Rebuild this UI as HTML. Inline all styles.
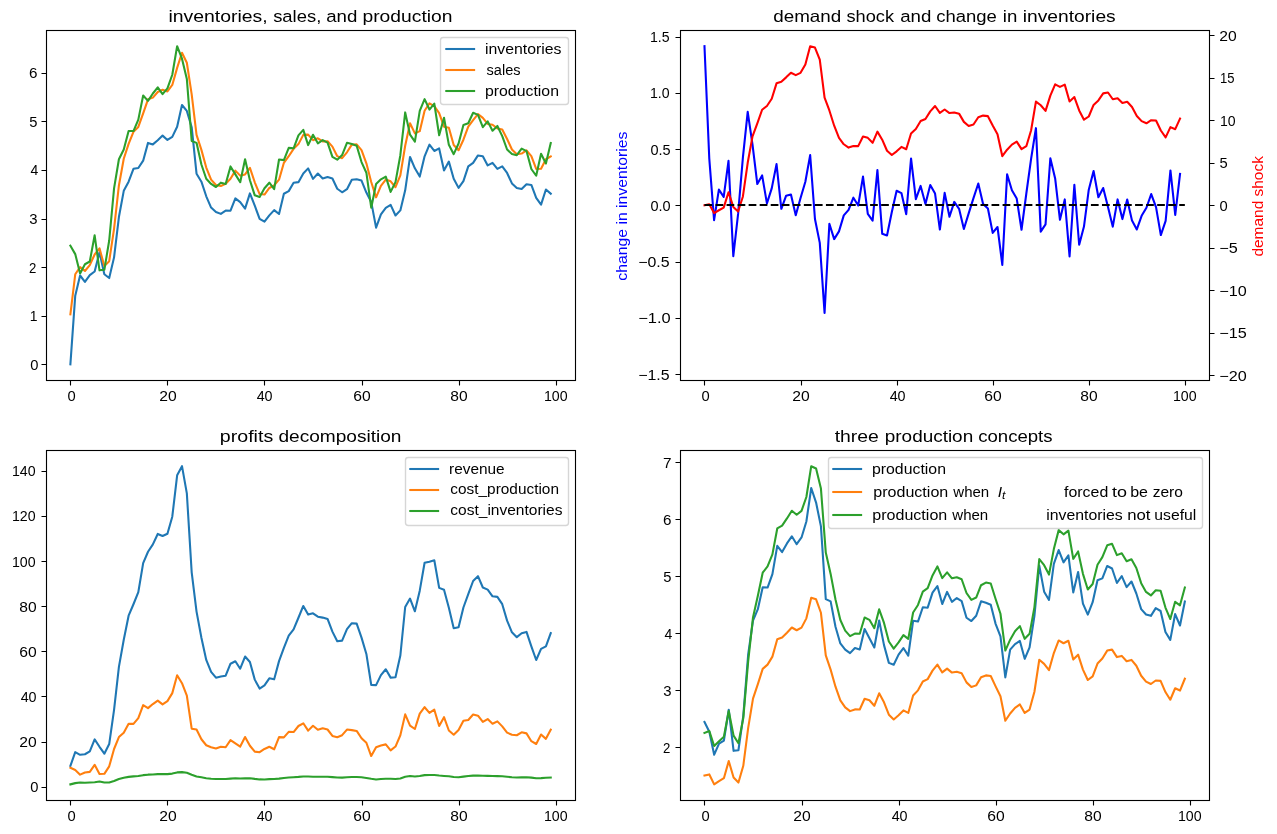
<!DOCTYPE html>
<html><head><meta charset="utf-8"><title>production smoothing</title>
<style>html,body{margin:0;padding:0;background:#fff;}body{width:1277px;height:834px;overflow:hidden;}svg{display:block;will-change:transform;}</style>
</head><body>
<svg width="1277" height="834" viewBox="0 0 1277 834">
<rect x="0" y="0" width="1277" height="834" fill="#ffffff"/>
<path d="M70.39 364.37 L75.24 295.64 L80.09 275.5 L84.94 281.94 L89.79 275.16 L94.65 271.5 L99.5 252.32 L104.35 274.3 L109.2 278.03 L114.06 257.37 L118.91 217.01 L123.76 190.84 L128.61 181.66 L133.46 168.76 L138.32 167.96 L143.17 160.67 L148.02 142.89 L152.87 144.41 L157.73 140.26 L162.58 135.62 L167.43 139.96 L172.28 136.85 L177.14 126.69 L181.99 105.03 L186.84 110.94 L191.69 127.18 L196.54 173.72 L201.4 181.67 L206.25 196.29 L211.1 207.55 L215.95 211.94 L220.81 213.91 L225.66 210.64 L230.51 210.74 L235.36 198.35 L240.21 202.05 L245.07 208.65 L249.92 193.41 L254.77 205.74 L259.62 218.78 L264.48 221.68 L269.33 215.41 L274.18 210.14 L279.03 213.99 L283.88 193.78 L288.74 191.11 L293.59 182.74 L298.44 182.14 L303.29 173.43 L308.15 168.39 L313 178.86 L317.85 173.5 L322.7 178.47 L327.55 177.03 L332.41 178.55 L337.26 188.78 L342.11 192.26 L346.96 189.2 L351.82 179.77 L356.67 179.17 L361.52 180.59 L366.37 192.53 L371.22 201.91 L376.08 227.68 L380.93 214.33 L385.78 207.82 L390.63 204.91 L395.49 215.48 L400.34 210.39 L405.19 190.28 L410.04 156.97 L414.89 168.34 L419.75 176.57 L424.6 156.3 L429.45 144.7 L434.3 150.97 L439.16 148.45 L444.01 170.51 L448.86 161.62 L453.71 178.69 L458.57 187.87 L463.42 181.15 L468.27 166.36 L473.12 162.89 L477.97 155.43 L482.83 156.17 L487.68 165.42 L492.53 162.88 L497.38 168.86 L502.24 166.34 L507.09 172.97 L511.94 183.42 L516.79 187.97 L521.64 189.04 L526.5 184.19 L531.35 184.97 L536.2 197.83 L541.05 204.58 L545.91 189.55 L550.76 193.72" fill="none" stroke="#1f77b4" stroke-width="2.08" stroke-linejoin="round" stroke-linecap="square"/>
<path d="M70.39 314.37 L75.24 274.26 L80.09 267.16 L84.94 271 L89.79 265.18 L94.65 254.48 L99.5 248.36 L104.35 266.11 L109.2 261.18 L114.06 228.78 L118.91 185.46 L123.76 158.72 L128.61 143.82 L133.46 131.88 L138.32 126.94 L143.17 113.28 L148.02 99.33 L152.87 97.63 L157.73 92.03 L162.58 89.79 L167.43 91.5 L172.28 84.91 L177.14 67.85 L181.99 52.72 L186.84 62.72 L191.69 94.39 L196.54 134.9 L201.4 149.85 L206.25 167.52 L211.1 179.58 L215.95 185.02 L220.81 185.95 L225.66 183.84 L230.51 178.82 L235.36 170.63 L240.21 175.64 L245.07 174.44 L249.92 167.87 L254.77 182.29 L259.62 194.07 L264.48 194.57 L269.33 187.97 L274.18 185.32 L279.03 179.68 L283.88 162.78 L288.74 156.23 L293.59 148.85 L298.44 144.11 L303.29 134.87 L308.15 134.66 L313 140.16 L317.85 138.32 L322.7 141.49 L327.55 141.18 L332.41 146.61 L337.26 156.16 L342.11 158.17 L346.96 152.29 L351.82 144.67 L356.67 144.32 L361.52 150.13 L366.37 163.34 L371.22 181.94 L376.08 197.37 L380.93 185.84 L385.78 179.55 L390.63 181.32 L395.49 187.22 L400.34 175.34 L405.19 145.72 L410.04 123.23 L414.89 133.4 L419.75 131.14 L424.6 110.71 L429.45 103.29 L434.3 106.18 L439.16 113.2 L444.01 126.67 L448.86 127.79 L453.71 144.97 L458.57 150.27 L463.42 139.72 L468.27 126.71 L473.12 120.17 L477.97 114.12 L482.83 117.93 L487.68 123.92 L492.53 124.77 L497.38 128.45 L502.24 129.53 L507.09 139.06 L511.94 149.48 L516.79 154.17 L521.64 153.53 L526.5 150.33 L531.35 156.12 L536.2 168.99 L541.05 168.72 L545.91 159.27 L550.76 156.47" fill="none" stroke="#ff7f0e" stroke-width="2.08" stroke-linejoin="round" stroke-linecap="square"/>
<path d="M70.39 245.65 L75.24 254.11 L80.09 273.6 L84.94 264.22 L89.79 261.53 L94.65 235.3 L99.5 270.34 L104.35 269.84 L109.2 240.51 L114.06 188.41 L118.91 159.29 L123.76 149.54 L128.61 130.93 L133.46 131.08 L138.32 119.66 L143.17 95.5 L148.02 100.85 L152.87 93.49 L157.73 87.39 L162.58 94.12 L167.43 88.39 L172.28 74.75 L177.14 46.19 L181.99 58.64 L186.84 78.95 L191.69 140.94 L196.54 142.85 L201.4 164.47 L206.25 178.78 L211.1 183.96 L215.95 187 L220.81 182.67 L225.66 183.95 L230.51 166.42 L235.36 174.34 L240.21 182.23 L245.07 159.2 L249.92 180.21 L254.77 195.33 L259.62 196.97 L264.48 188.3 L269.33 182.7 L274.18 189.17 L279.03 159.47 L283.88 160.11 L288.74 147.86 L293.59 148.26 L298.44 135.39 L303.29 129.83 L308.15 145.13 L313 134.8 L317.85 143.29 L322.7 140.04 L327.55 142.7 L332.41 156.84 L337.26 159.64 L342.11 155.11 L346.96 142.86 L351.82 144.08 L356.67 145.75 L361.52 162.07 L366.37 172.73 L371.22 207.71 L376.08 184.03 L380.93 179.33 L385.78 176.65 L390.63 191.89 L395.49 182.13 L400.34 155.23 L405.19 112.41 L410.04 134.6 L414.89 141.63 L419.75 110.87 L424.6 99.12 L429.45 109.56 L434.3 103.65 L439.16 135.26 L444.01 117.78 L448.86 144.85 L453.71 154.16 L458.57 143.54 L463.42 124.93 L468.27 123.25 L473.12 112.71 L477.97 114.86 L482.83 127.18 L487.68 121.38 L492.53 130.75 L497.38 125.94 L502.24 136.16 L507.09 149.51 L511.94 154.03 L516.79 155.24 L521.64 148.68 L526.5 151.1 L531.35 168.99 L536.2 175.74 L541.05 153.69 L545.91 163.45 L550.76 142.95" fill="none" stroke="#2ca02c" stroke-width="2.08" stroke-linejoin="round" stroke-linecap="square"/>
<path d="M704.48 46.19 L709.28 158.64 L714.08 220.19 L718.89 189.58 L723.69 196.82 L728.5 160.86 L733.3 256.16 L738.1 213.92 L742.91 157.45 L747.71 111.84 L752.51 144.7 L757.32 184.03 L762.12 175.43 L766.93 203.42 L771.73 188.41 L776.53 164.11 L781.34 208.8 L786.14 195.68 L790.94 194.54 L795.75 215.31 L800.55 198.09 L805.35 181.76 L810.16 155.12 L814.96 218.97 L819.77 242.86 L824.57 313.02 L829.37 223.7 L834.18 239.12 L838.98 231.34 L843.78 215.42 L848.59 209.86 L853.39 197.69 L858.2 205.53 L863 176.58 L867.8 213.85 L872.61 220.55 L877.41 170 L882.21 233.82 L887.02 235.47 L891.82 211.99 L896.63 190.76 L901.43 193.07 L906.23 214.19 L911.04 158.49 L915.84 199.1 L920.64 185.91 L925.45 203.9 L930.25 185.1 L935.06 193.61 L939.86 229.52 L944.66 192.88 L949.47 216.79 L954.27 201.93 L959.07 208.81 L963.88 228.96 L968.68 213.33 L973.48 198.18 L978.29 183.45 L983.09 203.9 L987.9 208.57 L992.7 232.9 L997.5 227 L1002.31 264.92 L1007.11 174.38 L1011.91 190.21 L1016.72 198.56 L1021.52 229.75 L1026.33 193.49 L1031.13 158.73 L1035.93 128.17 L1040.74 231.6 L1045.54 224.34 L1050.34 158.36 L1055.15 178.43 L1059.95 219.79 L1064.76 199.43 L1069.56 256.34 L1074.36 184.72 L1079.17 244.77 L1083.97 226.55 L1088.77 189.7 L1093.58 171.04 L1098.38 197.26 L1103.19 188.01 L1107.99 206.99 L1112.79 226.69 L1117.6 199.41 L1122.4 219.11 L1127.2 199.45 L1132.01 220.62 L1136.81 229.47 L1141.62 215.82 L1146.42 207.76 L1151.22 194.05 L1156.03 207.07 L1160.83 235.06 L1165.63 220.91 L1170.44 170.47 L1175.24 214.95 L1180.04 173.97" fill="none" stroke="#0000ff" stroke-width="2.08" stroke-linejoin="round" stroke-linecap="square"/>
<path d="M704.48 205.28 L709.28 204.22 L714.08 213.11 L718.89 210.27 L723.69 207.63 L728.5 192.24 L733.3 206.93 L738.1 211.48 L742.91 196.47 L747.71 162.8 L752.51 136.43 L757.32 123.47 L762.12 109.75 L766.93 105.96 L771.73 98.79 L776.53 83.33 L781.34 81.66 L786.14 77.37 L790.94 72.77 L795.75 75.17 L800.55 72.85 L805.35 64.56 L810.16 46.19 L814.96 47.53 L819.77 59.56 L824.57 97.73 L829.37 110.45 L834.18 125.69 L838.98 137.95 L843.78 144.26 L848.59 147.59 L853.39 146.04 L858.2 146.15 L863 136.47 L867.8 137.85 L872.61 142.82 L877.41 131.61 L882.21 139.7 L887.02 150.76 L891.82 155.01 L896.63 151.31 L901.43 146.93 L906.23 149.19 L911.04 133.51 L915.84 128.98 L920.64 121.04 L925.45 118.95 L930.25 111.34 L935.06 105.98 L939.86 112.95 L944.66 109.52 L949.47 113.08 L954.27 112.42 L959.07 113.64 L963.88 121.85 L968.68 125.92 L973.48 124.54 L978.29 117.21 L983.09 115.6 L987.9 116.15 L992.7 125.43 L997.5 134.22 L1002.31 156.19 L1007.11 149.69 L1011.91 144.64 L1016.72 141.59 L1021.52 149.17 L1026.33 146.19 L1031.13 130.24 L1035.93 101.58 L1040.74 105.26 L1045.54 110.86 L1050.34 95.64 L1055.15 84.33 L1059.95 86.84 L1064.76 84.61 L1069.56 101.46 L1074.36 97.05 L1079.17 110.41 L1083.97 119.72 L1088.77 116.49 L1093.58 104.96 L1098.38 100.44 L1103.19 93.39 L1107.99 92.52 L1112.79 99.24 L1117.6 98.17 L1122.4 102.93 L1127.2 101.73 L1132.01 106.94 L1136.81 115.95 L1141.62 121.17 L1146.42 123.28 L1151.22 120.17 L1156.03 120.47 L1160.83 130.51 L1165.63 137.37 L1170.44 127.11 L1175.24 129.17 L1180.04 118.58" fill="none" stroke="#ff0000" stroke-width="2.08" stroke-linejoin="round" stroke-linecap="square"/>
<path d="M704.48 205 L1184.85 205" fill="none" stroke="#000000" stroke-width="2.08" stroke-dasharray="7.708 3.333" stroke-linecap="butt"/>
<path d="M70.39 765.92 L75.24 752.14 L80.09 754.8 L84.94 754.26 L89.79 751.36 L94.65 739.43 L99.5 746.78 L104.35 753.68 L109.2 744.03 L114.06 709.87 L118.91 666.94 L123.76 639.72 L128.61 615.67 L133.46 604.25 L138.32 592.19 L143.17 563.06 L148.02 551.75 L152.87 544.42 L157.73 533.95 L162.58 536.06 L167.43 533.71 L172.28 516.7 L177.14 475.28 L181.99 466.19 L186.84 493.42 L191.69 572.35 L196.54 611.59 L201.4 637.8 L206.25 659.93 L211.1 671.94 L215.95 677.66 L220.81 676.55 L225.66 675.72 L230.51 663.71 L235.36 661.26 L240.21 668.72 L245.07 656.56 L249.92 661.97 L254.77 679.63 L259.62 688.6 L264.48 685.37 L269.33 678.32 L274.18 679.35 L279.03 661.14 L283.88 647.91 L288.74 635.67 L293.59 629.37 L298.44 617.75 L303.29 605.97 L308.15 614.6 L313 613.33 L317.85 616.71 L322.7 617.61 L327.55 618.92 L332.41 631.65 L337.26 641.19 L342.11 640.64 L346.96 629.17 L351.82 623.18 L356.67 623.65 L361.52 637.63 L366.37 653.95 L371.22 684.89 L376.08 685.11 L380.93 675.14 L385.78 669.24 L390.63 677.63 L395.49 677.27 L400.34 655.6 L405.19 606.99 L410.04 598.53 L414.89 611.29 L419.75 590.67 L424.6 562.78 L429.45 561.66 L434.3 560.29 L439.16 587.89 L444.01 589.77 L448.86 607.72 L453.71 628.27 L458.57 627.25 L463.42 607.5 L468.27 594.2 L473.12 581.01 L477.97 576.18 L482.83 587.53 L487.68 589.59 L492.53 596.33 L497.38 596.88 L502.24 604.19 L507.09 620.64 L511.94 632.31 L516.79 637.17 L521.64 633.25 L526.5 631.93 L531.35 646.39 L536.2 659.99 L541.05 648.89 L545.91 646.4 L550.76 633" fill="none" stroke="#1f77b4" stroke-width="2.08" stroke-linejoin="round" stroke-linecap="square"/>
<path d="M70.39 767.77 L75.24 770.02 L80.09 774.67 L84.94 772.52 L89.79 771.87 L94.65 764.84 L99.5 773.94 L104.35 773.83 L109.2 766.34 L114.06 749 L118.91 737.04 L123.76 732.67 L128.61 723.83 L133.46 723.91 L138.32 718.16 L143.17 705.18 L148.02 708.15 L152.87 704.05 L157.73 700.58 L162.58 704.41 L167.43 701.15 L172.28 693.14 L177.14 675.22 L181.99 683.23 L186.84 695.65 L191.69 728.67 L196.54 729.57 L201.4 739.28 L206.25 745.22 L211.1 747.27 L215.95 748.45 L220.81 746.77 L225.66 747.27 L230.51 740.12 L235.36 743.42 L240.21 746.59 L245.07 737 L249.92 745.79 L254.77 751.6 L259.62 752.2 L264.48 748.95 L269.33 746.78 L274.18 749.29 L279.03 737.12 L283.88 737.4 L288.74 731.9 L293.59 732.08 L298.44 726.02 L303.29 723.29 L308.15 730.64 L313 725.73 L317.85 729.78 L322.7 728.24 L327.55 729.5 L332.41 735.96 L337.26 737.19 L342.11 735.19 L346.96 729.58 L351.82 730.15 L356.67 730.92 L361.52 738.25 L366.37 742.76 L371.22 756.02 L376.08 747.3 L380.93 745.44 L385.78 744.36 L390.63 750.32 L395.49 746.55 L400.34 735.24 L405.19 714.38 L410.04 725.63 L414.89 729 L419.75 713.57 L424.6 707.2 L429.45 712.87 L434.3 709.69 L439.16 725.95 L444.01 717.19 L448.86 730.51 L453.71 734.76 L458.57 729.9 L463.42 720.85 L468.27 719.99 L473.12 714.54 L477.97 715.67 L482.83 721.97 L487.68 719.05 L492.53 723.75 L497.38 721.35 L502.24 726.39 L507.09 732.66 L511.94 734.71 L516.79 735.25 L521.64 732.28 L526.5 733.38 L531.35 741.2 L536.2 743.99 L541.05 734.55 L545.91 738.85 L550.76 729.62" fill="none" stroke="#ff7f0e" stroke-width="2.08" stroke-linejoin="round" stroke-linecap="square"/>
<path d="M70.39 784.37 L75.24 783.13 L80.09 782.56 L84.94 782.81 L89.79 782.52 L94.65 782.17 L99.5 781.54 L104.35 782.51 L109.2 782.48 L114.06 781.01 L118.91 778.96 L123.76 777.71 L128.61 776.9 L133.46 776.37 L138.32 776.03 L143.17 775.15 L148.02 774.66 L152.87 774.45 L157.73 774.12 L162.58 774.12 L167.43 774.09 L172.28 773.61 L177.14 772.41 L181.99 772.1 L186.84 772.76 L191.69 774.71 L196.54 776.46 L201.4 777.3 L206.25 778.16 L211.1 778.73 L215.95 778.98 L220.81 779.02 L225.66 778.93 L230.51 778.65 L235.36 778.31 L240.21 778.55 L245.07 778.41 L249.92 778.19 L254.77 778.86 L259.62 779.41 L264.48 779.43 L269.33 779.12 L274.18 779 L279.03 778.65 L283.88 777.92 L288.74 777.55 L293.59 777.22 L298.44 776.91 L303.29 776.47 L308.15 776.57 L313 776.71 L317.85 776.71 L322.7 776.82 L327.55 776.83 L332.41 777.15 L337.26 777.58 L342.11 777.65 L346.96 777.32 L351.82 777.01 L356.67 776.99 L361.52 777.33 L366.37 777.96 L371.22 778.83 L376.08 779.53 L380.93 779.01 L385.78 778.72 L390.63 778.82 L395.49 779.08 L400.34 778.43 L405.19 776.77 L410.04 776.04 L414.89 776.49 L419.75 776.06 L424.6 775.11 L429.45 774.92 L434.3 774.93 L439.16 775.54 L444.01 775.92 L448.86 776.25 L453.71 777.05 L458.57 777.21 L463.42 776.61 L468.27 776.06 L473.12 775.65 L477.97 775.42 L482.83 775.69 L487.68 775.87 L492.53 776.01 L497.38 776.12 L502.24 776.26 L507.09 776.77 L511.94 777.25 L516.79 777.47 L521.64 777.41 L526.5 777.29 L531.35 777.63 L536.2 778.23 L541.05 778.11 L545.91 777.76 L550.76 777.5" fill="none" stroke="#2ca02c" stroke-width="2.08" stroke-linejoin="round" stroke-linecap="square"/>
<path d="M704.48 721.88 L709.33 731.81 L714.18 754.66 L719.03 743.66 L723.89 740.51 L728.74 709.74 L733.59 750.84 L738.44 750.26 L743.29 715.86 L748.15 654.76 L753 620.61 L757.85 609.18 L762.7 587.35 L767.56 587.53 L772.41 574.14 L777.26 545.81 L782.11 552.08 L786.96 543.45 L791.82 536.31 L796.67 544.19 L801.52 537.48 L806.37 521.48 L811.23 487.98 L816.08 502.58 L820.93 526.4 L825.78 599.09 L830.63 601.34 L835.49 626.69 L840.34 643.47 L845.19 649.55 L850.04 653.11 L854.9 648.04 L859.75 649.53 L864.6 628.98 L869.45 638.26 L874.31 647.52 L879.16 620.5 L884.01 645.14 L888.86 662.88 L893.71 664.8 L898.57 654.63 L903.42 648.06 L908.27 655.65 L913.12 620.82 L917.98 621.57 L922.83 607.21 L927.68 607.67 L932.53 592.59 L937.38 586.07 L942.24 604.01 L947.09 591.9 L951.94 601.86 L956.79 598.04 L961.65 601.16 L966.5 617.74 L971.35 621.02 L976.2 615.71 L981.05 601.35 L985.91 602.77 L990.76 604.73 L995.61 623.87 L1000.46 636.37 L1005.32 677.39 L1010.17 649.62 L1015.02 644.11 L1019.87 640.97 L1024.72 658.84 L1029.58 647.4 L1034.43 615.85 L1039.28 565.64 L1044.13 591.66 L1048.99 599.91 L1053.84 563.83 L1058.69 550.05 L1063.54 562.3 L1068.39 555.37 L1073.25 592.44 L1078.1 571.94 L1082.95 603.69 L1087.8 614.6 L1092.66 602.15 L1097.51 580.32 L1102.36 578.35 L1107.21 565.99 L1112.06 568.51 L1116.92 582.96 L1121.77 576.16 L1126.62 587.14 L1131.47 581.5 L1136.33 593.49 L1141.18 609.14 L1146.03 614.45 L1150.88 615.87 L1155.74 608.17 L1160.59 611.01 L1165.44 631.98 L1170.29 639.9 L1175.14 614.04 L1180 625.49 L1184.85 601.45" fill="none" stroke="#1f77b4" stroke-width="2.08" stroke-linejoin="round" stroke-linecap="square"/>
<path d="M704.48 775.61 L709.33 774.42 L714.18 784.37 L719.03 781.18 L723.89 778.23 L728.74 761.04 L733.59 777.46 L738.44 782.55 L743.29 765.76 L748.15 728.14 L753 698.67 L757.85 684.19 L762.7 668.85 L767.56 664.62 L772.41 656.61 L777.26 639.33 L782.11 637.47 L786.96 632.67 L791.82 627.53 L796.67 630.22 L801.52 627.62 L806.37 618.36 L811.23 597.83 L816.08 599.33 L820.93 612.77 L825.78 655.42 L830.63 669.64 L835.49 686.67 L840.34 700.37 L845.19 707.42 L850.04 711.14 L854.9 709.41 L859.75 709.54 L864.6 698.72 L869.45 700.26 L874.31 705.81 L879.16 693.29 L884.01 702.33 L888.86 714.69 L893.71 719.44 L898.57 715.31 L903.42 710.41 L908.27 712.93 L913.12 695.41 L917.98 690.35 L922.83 681.48 L927.68 679.14 L932.53 670.64 L937.38 664.65 L942.24 672.43 L947.09 668.6 L951.94 672.58 L956.79 671.84 L961.65 673.2 L966.5 682.38 L971.35 686.93 L976.2 685.38 L981.05 677.19 L985.91 675.4 L990.76 676.01 L995.61 686.38 L1000.46 696.21 L1005.32 720.75 L1010.17 713.49 L1015.02 707.85 L1019.87 704.44 L1024.72 712.91 L1029.58 709.58 L1034.43 691.76 L1039.28 659.73 L1044.13 663.84 L1048.99 670.1 L1053.84 653.08 L1058.69 640.45 L1063.54 643.26 L1068.39 640.76 L1073.25 659.59 L1078.1 654.66 L1082.95 669.6 L1087.8 680 L1092.66 676.39 L1097.51 663.51 L1102.36 658.46 L1107.21 650.58 L1112.06 649.61 L1116.92 657.11 L1121.77 655.91 L1126.62 661.23 L1131.47 659.89 L1136.33 665.72 L1141.18 675.79 L1146.03 681.62 L1150.88 683.98 L1155.74 680.5 L1160.59 680.84 L1165.44 692.05 L1170.29 699.72 L1175.14 688.26 L1180 690.56 L1184.85 678.72" fill="none" stroke="#ff7f0e" stroke-width="2.08" stroke-linejoin="round" stroke-linecap="square"/>
<path d="M704.48 732.86 L709.33 731.08 L714.18 746 L719.03 741.22 L723.89 736.8 L728.74 711.02 L733.59 735.64 L738.44 743.27 L743.29 718.1 L748.15 661.67 L753 617.46 L757.85 595.73 L762.7 572.73 L767.56 566.38 L772.41 554.36 L777.26 528.45 L782.11 525.65 L786.96 518.45 L791.82 510.75 L796.67 514.78 L801.52 510.88 L806.37 496.98 L811.23 466.19 L816.08 468.45 L820.93 488.61 L825.78 552.58 L830.63 573.91 L835.49 599.45 L840.34 620 L845.19 630.58 L850.04 636.17 L854.9 633.56 L859.75 633.76 L864.6 617.53 L869.45 619.84 L874.31 628.17 L879.16 609.38 L884.01 622.94 L888.86 641.48 L893.71 648.61 L898.57 642.41 L903.42 635.06 L908.27 638.84 L913.12 612.56 L917.98 604.97 L922.83 591.67 L927.68 588.15 L932.53 575.4 L937.38 566.42 L942.24 578.1 L947.09 572.35 L951.94 578.32 L956.79 577.2 L961.65 579.25 L966.5 593.01 L971.35 599.85 L976.2 597.52 L981.05 585.24 L985.91 582.55 L990.76 583.46 L995.61 599.01 L1000.46 613.76 L1005.32 650.57 L1010.17 639.68 L1015.02 631.23 L1019.87 626.11 L1024.72 638.81 L1029.58 633.82 L1034.43 607.09 L1039.28 559.05 L1044.13 565.21 L1048.99 574.59 L1053.84 549.08 L1058.69 530.12 L1063.54 534.34 L1068.39 530.59 L1073.25 558.84 L1078.1 551.45 L1082.95 573.84 L1087.8 589.44 L1092.66 584.04 L1097.51 564.71 L1102.36 557.13 L1107.21 545.31 L1112.06 543.86 L1116.92 555.11 L1121.77 553.32 L1126.62 561.3 L1131.47 559.29 L1136.33 568.03 L1141.18 583.13 L1146.03 591.88 L1150.88 595.42 L1155.74 590.2 L1160.59 590.7 L1165.44 607.53 L1170.29 619.03 L1175.14 601.83 L1180 605.29 L1184.85 587.54" fill="none" stroke="#2ca02c" stroke-width="2.08" stroke-linejoin="round" stroke-linecap="square"/>
<rect x="46.5" y="30.5" width="529.0" height="350.0" fill="none" stroke="#000" stroke-width="1.11" stroke-linecap="square"/>
<rect x="680.5" y="30.5" width="529.0" height="350.0" fill="none" stroke="#000" stroke-width="1.11" stroke-linecap="square"/>
<rect x="46.5" y="450.5" width="529.0" height="350.0" fill="none" stroke="#000" stroke-width="1.11" stroke-linecap="square"/>
<rect x="680.5" y="450.5" width="529.0" height="350.0" fill="none" stroke="#000" stroke-width="1.11" stroke-linecap="square"/>
<path d="M70.5 380.5 V385.5 M167.5 380.5 V385.5 M264.5 380.5 V385.5 M362.5 380.5 V385.5 M459.5 380.5 V385.5 M556.5 380.5 V385.5 M46.5 364.5 H41.5 M46.5 316.5 H41.5 M46.5 267.5 H41.5 M46.5 219.5 H41.5 M46.5 170.5 H41.5 M46.5 121.5 H41.5 M46.5 73.5 H41.5 M704.5 380.5 V385.5 M801.5 380.5 V385.5 M897.5 380.5 V385.5 M993.5 380.5 V385.5 M1089.5 380.5 V385.5 M1185.5 380.5 V385.5 M680.5 374.5 H675.5 M680.5 318.5 H675.5 M680.5 262.5 H675.5 M680.5 205.5 H675.5 M680.5 149.5 H675.5 M680.5 93.5 H675.5 M680.5 37.5 H675.5 M1209.5 375.5 H1214.5 M1209.5 333.5 H1214.5 M1209.5 290.5 H1214.5 M1209.5 248.5 H1214.5 M1209.5 205.5 H1214.5 M1209.5 163.5 H1214.5 M1209.5 120.5 H1214.5 M1209.5 78.5 H1214.5 M1209.5 35.5 H1214.5 M70.5 800.5 V805.5 M167.5 800.5 V805.5 M264.5 800.5 V805.5 M362.5 800.5 V805.5 M459.5 800.5 V805.5 M556.5 800.5 V805.5 M46.5 787.5 H41.5 M46.5 742.5 H41.5 M46.5 696.5 H41.5 M46.5 651.5 H41.5 M46.5 606.5 H41.5 M46.5 561.5 H41.5 M46.5 516.5 H41.5 M46.5 471.5 H41.5 M704.5 800.5 V805.5 M802.5 800.5 V805.5 M899.5 800.5 V805.5 M996.5 800.5 V805.5 M1093.5 800.5 V805.5 M1190.5 800.5 V805.5 M680.5 747.5 H675.5 M680.5 690.5 H675.5 M680.5 633.5 H675.5 M680.5 576.5 H675.5 M680.5 519.5 H675.5 M680.5 462.5 H675.5" stroke="#000" stroke-width="1.11" fill="none"/>
<rect x="440.5" y="37.5" width="128.0" height="67.0" rx="2.78" ry="2.78" fill="#ffffff" fill-opacity="0.8" stroke="#cccccc" stroke-opacity="0.8" stroke-width="1.389"/>
<path d="M446.31 49 H474.09" stroke="#1f77b4" stroke-width="2.08" stroke-linecap="square"/>
<path d="M446.31 70 H474.09" stroke="#ff7f0e" stroke-width="2.08" stroke-linecap="square"/>
<path d="M446.31 91 H474.09" stroke="#2ca02c" stroke-width="2.08" stroke-linecap="square"/>
<rect x="405.5" y="457.5" width="163.0" height="68.0" rx="2.78" ry="2.78" fill="#ffffff" fill-opacity="0.8" stroke="#cccccc" stroke-opacity="0.8" stroke-width="1.389"/>
<path d="M410.31 469 H438.09" stroke="#1f77b4" stroke-width="2.08" stroke-linecap="square"/>
<path d="M410.31 490 H438.09" stroke="#ff7f0e" stroke-width="2.08" stroke-linecap="square"/>
<path d="M410.31 511 H438.09" stroke="#2ca02c" stroke-width="2.08" stroke-linecap="square"/>
<rect x="828.5" y="457.5" width="374.0" height="71.0" rx="2.78" ry="2.78" fill="#ffffff" fill-opacity="0.8" stroke="#cccccc" stroke-opacity="0.8" stroke-width="1.389"/>
<path d="M833.31 469 H861.09" stroke="#1f77b4" stroke-width="2.08" stroke-linecap="square"/>
<path d="M833.31 492 H861.09" stroke="#ff7f0e" stroke-width="2.08" stroke-linecap="square"/>
<path d="M833.31 515 H861.09" stroke="#2ca02c" stroke-width="2.08" stroke-linecap="square"/>
<g font-family='"Liberation Sans", sans-serif'>
<text transform="translate(168.44 21.94) scale(1.1649 1)" font-size="16.67" fill="#000000">inventories,</text>
<text transform="translate(273.15 21.94) scale(1.1062 1)" font-size="16.67" fill="#000000">sales,</text>
<text transform="translate(326.26 21.94) scale(1.1189 1)" font-size="16.67" fill="#000000">and</text>
<text transform="translate(362.45 21.94) scale(1.1564 1)" font-size="16.67" fill="#000000">production</text>
<text transform="translate(67.41 401) scale(1.0610 1)" font-size="13.89" fill="#000000">0</text>
<text transform="translate(159.22 401) scale(1.1294 1)" font-size="13.89" fill="#000000">20</text>
<text transform="translate(256.64 401) scale(1.0335 1)" font-size="13.89" fill="#000000">40</text>
<text transform="translate(353.22 401) scale(1.1294 1)" font-size="13.89" fill="#000000">60</text>
<text transform="translate(450.3 401) scale(1.1239 1)" font-size="13.89" fill="#000000">80</text>
<text transform="translate(543.94 401) scale(1.0219 1)" font-size="13.89" fill="#000000">100</text>
<text transform="translate(30.16 369.87) scale(1.0610 1)" font-size="13.89" fill="#000000">0</text>
<text transform="translate(29.7 321.27) scale(1.0046 1)" font-size="13.89" fill="#000000">1</text>
<text transform="translate(29.09 272.66) scale(0.9494 1)" font-size="13.89" fill="#000000">2</text>
<text transform="translate(29.15 224.06) scale(1.0723 1)" font-size="13.89" fill="#000000">3</text>
<text transform="translate(30.4 175.46) scale(1.0080 1)" font-size="13.89" fill="#000000">4</text>
<text transform="translate(29.16 126.85) scale(1.0610 1)" font-size="13.89" fill="#000000">5</text>
<text transform="translate(28.99 78.25) scale(1.0956 1)" font-size="13.89" fill="#000000">6</text>
<text transform="translate(484.97 53.78) scale(1.1404 1)" font-size="13.89" fill="#000000">inventories</text>
<text transform="translate(486.56 74.72) scale(1.0467 1)" font-size="13.89" fill="#000000">sales</text>
<text transform="translate(484.97 95.67) scale(1.1418 1)" font-size="13.89" fill="#000000">production</text>
<text transform="translate(773.25 21.94) scale(1.1282 1)" font-size="16.67" fill="#000000">demand</text>
<text transform="translate(846.45 21.94) scale(1.0930 1)" font-size="16.67" fill="#000000">shock</text>
<text transform="translate(900.16 21.94) scale(1.1189 1)" font-size="16.67" fill="#000000">and</text>
<text transform="translate(936.17 21.94) scale(1.1097 1)" font-size="16.67" fill="#000000">change</text>
<text transform="translate(1002.79 21.94) scale(1.1163 1)" font-size="16.67" fill="#000000">in</text>
<text transform="translate(1022.75 21.94) scale(1.1531 1)" font-size="16.67" fill="#000000">inventories</text>
<text transform="translate(627.18 280.71) rotate(-90) scale(1.1372 1)" font-size="13.89" fill="#0000ff">change in inventories</text>
<text transform="translate(701.41 401) scale(1.0610 1)" font-size="13.89" fill="#000000">0</text>
<text transform="translate(792.22 401) scale(1.1294 1)" font-size="13.89" fill="#000000">20</text>
<text transform="translate(889.64 401) scale(1.0335 1)" font-size="13.89" fill="#000000">40</text>
<text transform="translate(984.22 401) scale(1.1294 1)" font-size="13.89" fill="#000000">60</text>
<text transform="translate(1080.3 401) scale(1.1239 1)" font-size="13.89" fill="#000000">80</text>
<text transform="translate(1172.94 401) scale(1.0219 1)" font-size="13.89" fill="#000000">100</text>
<text transform="translate(638.2 379.54) scale(1.1459 1)" font-size="13.89" fill="#000000">−1.5</text>
<text transform="translate(638.18 323.29) scale(1.1841 1)" font-size="13.89" fill="#000000">−1.0</text>
<text transform="translate(638.2 267.03) scale(1.1459 1)" font-size="13.89" fill="#000000">−0.5</text>
<text transform="translate(650.42 210.78) scale(1.0443 1)" font-size="13.89" fill="#000000">0.0</text>
<text transform="translate(650.42 154.52) scale(1.0443 1)" font-size="13.89" fill="#000000">0.5</text>
<text transform="translate(649.94 98.27) scale(1.0165 1)" font-size="13.89" fill="#000000">1.0</text>
<text transform="translate(649.94 42.01) scale(1.0165 1)" font-size="13.89" fill="#000000">1.5</text>
<text transform="translate(1262.79 256.62) rotate(-90) scale(1.1137 1)" font-size="13.89" fill="#ff0000">demand shock</text>
<text transform="translate(1219.19 380.79) scale(1.1663 1)" font-size="13.89" fill="#000000">−20</text>
<text transform="translate(1219.19 338.28) scale(1.1663 1)" font-size="13.89" fill="#000000">−15</text>
<text transform="translate(1219.19 295.78) scale(1.1663 1)" font-size="13.89" fill="#000000">−10</text>
<text transform="translate(1219.19 253.28) scale(1.1657 1)" font-size="13.89" fill="#000000">−5</text>
<text transform="translate(1219.41 210.78) scale(1.0610 1)" font-size="13.89" fill="#000000">0</text>
<text transform="translate(1219.41 168.28) scale(1.0610 1)" font-size="13.89" fill="#000000">5</text>
<text transform="translate(1219.94 125.77) scale(1.0131 1)" font-size="13.89" fill="#000000">10</text>
<text transform="translate(1220.02 83.27) scale(0.9407 1)" font-size="13.89" fill="#000000">15</text>
<text transform="translate(1219.22 40.77) scale(1.1294 1)" font-size="13.89" fill="#000000">20</text>
<text transform="translate(219.82 441.94) scale(1.1771 1)" font-size="16.67" fill="#000000">profits</text>
<text transform="translate(278.44 441.94) scale(1.1460 1)" font-size="16.67" fill="#000000">decomposition</text>
<text transform="translate(67.41 821) scale(1.0610 1)" font-size="13.89" fill="#000000">0</text>
<text transform="translate(159.22 821) scale(1.1294 1)" font-size="13.89" fill="#000000">20</text>
<text transform="translate(256.64 821) scale(1.0335 1)" font-size="13.89" fill="#000000">40</text>
<text transform="translate(353.22 821) scale(1.1294 1)" font-size="13.89" fill="#000000">60</text>
<text transform="translate(450.3 821) scale(1.1239 1)" font-size="13.89" fill="#000000">80</text>
<text transform="translate(543.94 821) scale(1.0219 1)" font-size="13.89" fill="#000000">100</text>
<text transform="translate(30.16 792.26) scale(1.0610 1)" font-size="13.89" fill="#000000">0</text>
<text transform="translate(19.22 747.11) scale(1.1294 1)" font-size="13.89" fill="#000000">20</text>
<text transform="translate(20.64 701.95) scale(1.0335 1)" font-size="13.89" fill="#000000">40</text>
<text transform="translate(19.22 656.8) scale(1.1294 1)" font-size="13.89" fill="#000000">60</text>
<text transform="translate(19.3 611.65) scale(1.1239 1)" font-size="13.89" fill="#000000">80</text>
<text transform="translate(11.94 566.5) scale(1.0219 1)" font-size="13.89" fill="#000000">100</text>
<text transform="translate(11.94 521.35) scale(1.0219 1)" font-size="13.89" fill="#000000">120</text>
<text transform="translate(11.94 476.19) scale(1.0219 1)" font-size="13.89" fill="#000000">140</text>
<text transform="translate(449 473.78) scale(1.1093 1)" font-size="13.89" fill="#000000">revenue</text>
<text transform="translate(450.31 493.86) scale(1.1085 1)" font-size="13.89" fill="#000000">cost_production</text>
<text transform="translate(450.3 514.95) scale(1.1185 1)" font-size="13.89" fill="#000000">cost_inventories</text>
<text transform="translate(834.71 441.94) scale(1.1621 1)" font-size="16.67" fill="#000000">three</text>
<text transform="translate(884.77 441.94) scale(1.1365 1)" font-size="16.67" fill="#000000">production</text>
<text transform="translate(978.16 441.94) scale(1.1159 1)" font-size="16.67" fill="#000000">concepts</text>
<text transform="translate(701.41 821) scale(1.0610 1)" font-size="13.89" fill="#000000">0</text>
<text transform="translate(793.22 821) scale(1.1294 1)" font-size="13.89" fill="#000000">20</text>
<text transform="translate(891.64 821) scale(1.0335 1)" font-size="13.89" fill="#000000">40</text>
<text transform="translate(987.22 821) scale(1.1294 1)" font-size="13.89" fill="#000000">60</text>
<text transform="translate(1084.3 821) scale(1.1239 1)" font-size="13.89" fill="#000000">80</text>
<text transform="translate(1177.94 821) scale(1.0219 1)" font-size="13.89" fill="#000000">100</text>
<text transform="translate(663.09 752.61) scale(0.9494 1)" font-size="13.89" fill="#000000">2</text>
<text transform="translate(663.15 695.62) scale(1.0723 1)" font-size="13.89" fill="#000000">3</text>
<text transform="translate(664.4 638.62) scale(1.0080 1)" font-size="13.89" fill="#000000">4</text>
<text transform="translate(663.16 581.63) scale(1.0610 1)" font-size="13.89" fill="#000000">5</text>
<text transform="translate(662.99 524.63) scale(1.0956 1)" font-size="13.89" fill="#000000">6</text>
<text transform="translate(662.98 467.64) scale(1.1077 1)" font-size="13.89" fill="#000000">7</text>
<text transform="translate(871.97 473.78) scale(1.1418 1)" font-size="13.89" fill="#000000">production</text>
<text transform="translate(873.22 497) scale(1.1577 1)" font-size="13.89" fill="#000">production</text>
<text transform="translate(953.27 497) scale(1.0839 1)" font-size="13.89" fill="#000">when</text>
<text transform="translate(997.68 496.8) scale(1.1200 1)" font-size="13.89" font-style="italic" fill="#000">I</text>
<text transform="translate(1002.06 498.8) scale(1.1749 1)" font-size="10.28" font-style="italic" fill="#000">t</text>
<text transform="translate(1064.03 497) scale(1.1467 1)" font-size="13.89" fill="#000">forced</text>
<text transform="translate(1112 497) scale(1.2923 1)" font-size="13.89" fill="#000">to</text>
<text transform="translate(1130.23 497) scale(1.1520 1)" font-size="13.89" fill="#000">be</text>
<text transform="translate(1152.65 497) scale(1.1196 1)" font-size="13.89" fill="#000">zero</text>
<text transform="translate(872.22 520) scale(1.1577 1)" font-size="13.89" fill="#000">production</text>
<text transform="translate(952.27 520) scale(1.0839 1)" font-size="13.89" fill="#000">when</text>
<text transform="translate(1046.24 520) scale(1.1404 1)" font-size="13.89" fill="#000">inventories</text>
<text transform="translate(1127.18 520) scale(1.2046 1)" font-size="13.89" fill="#000">not</text>
<text transform="translate(1154.24 520) scale(1.1361 1)" font-size="13.89" fill="#000">useful</text>
</g>
</svg>
</body></html>
